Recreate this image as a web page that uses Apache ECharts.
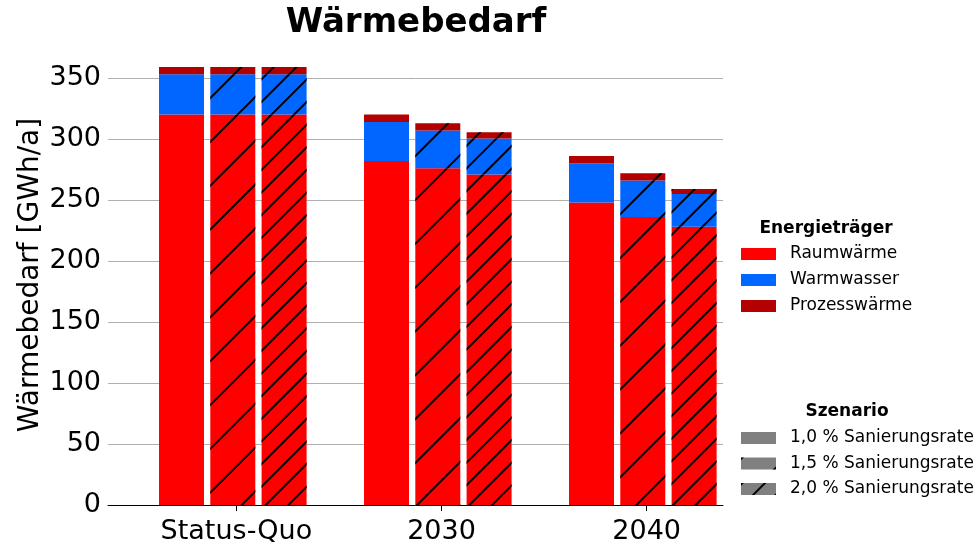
<!DOCTYPE html>
<html>
<head>
<meta charset="utf-8">
<script src="https://cdn.jsdelivr.net/npm/echarts@6/dist/echarts.min.js"></script>
<style>html,body{margin:0;padding:0;background:#fff;}#c{width:977px;height:545px;}</style>
</head>
<body>
<div id="c"></div>
<script>
const categories = ['Status-Quo', '2030', '2040'];
const scenarios = ['1,0 % Sanierungsrate', '1,5 % Sanierungsrate', '2,0 % Sanierungsrate'];
const components = ['Raumwärme', 'Warmwasser', 'Prozesswärme'];
// values per scenario, per category
const raumwaerme = [[320, 282, 248], [320, 276, 236], [320, 271, 228]];
const warmwasser = [[33, 32, 32], [33, 31, 30], [33, 29.5, 27]];
const prozesswaerme = [[6, 6, 6], [6, 6, 6], [6, 5, 4]];
const yTicks = [0, 50, 100, 150, 200, 250, 300, 350];

const FONT = 'DejaVu Sans';
const compColors = ['#ff0000', '#0066ff', '#b30000'];
const decals = [
  null,
  { symbol: 'rect', symbolSize: 1, dashArrayX: [1, 0], dashArrayY: [1.5, 29], rotation: -Math.PI / 4, color: '#000' },
  { symbol: 'rect', symbolSize: 1, dashArrayX: [1, 0], dashArrayY: [1.5, 13.5], rotation: -Math.PI / 4, color: '#000' }
];
const compData = [raumwaerme, warmwasser, prozesswaerme];

const series = [];
for (let s = 0; s < scenarios.length; s++) {
  for (let c = 0; c < components.length; c++) {
    const itemStyle = { color: compColors[c] };
    if (decals[s]) itemStyle.decal = decals[s];
    series.push({
      type: 'bar', name: components[c], stack: 'S' + s,
      xAxisIndex: 1, yAxisIndex: 1,
      barWidth: 45, barGap: '14%', clip: false,
      itemStyle: itemStyle,
      emphasis: { disabled: true },
      data: compData[c][s]
    });
  }
}
for (let s = 0; s < scenarios.length; s++) {
  const itemStyle = { color: '#808080' };
  if (decals[s]) itemStyle.decal = decals[s];
  series.push({ type: 'bar', name: scenarios[s], xAxisIndex: 0, yAxisIndex: 0, itemStyle: itemStyle, data: [] });
}

const yMax = yTicks[yTicks.length - 1];
const chart = echarts.init(document.getElementById('c'), null, { renderer: 'canvas' });
chart.setOption({
  animation: false,
  backgroundColor: '#fff',
  textStyle: { fontFamily: FONT },
  grid: [
    { left: 108, right: 254, top: 78, bottom: 40 },
    { left: 130.3, right: 231.7, top: 78, bottom: 40 }
  ],
  xAxis: [
    {
      type: 'value', gridIndex: 0, min: -0.626, max: 2.372,
      axisLine: { show: true, lineStyle: { color: '#000', width: 1 } },
      axisTick: { show: true, customValues: [0, 1, 2], length: 6, lineStyle: { color: '#000' } },
      axisLabel: { show: true, customValues: [0, 1, 2], formatter: v => categories[Math.round(v)] || '', fontSize: 27, color: '#000', fontFamily: FONT, margin: 13 },
      splitLine: { show: false }
    },
    {
      type: 'category', gridIndex: 1, data: categories,
      axisLine: { show: false }, axisTick: { show: false }, axisLabel: { show: false }, splitLine: { show: false }
    }
  ],
  yAxis: [
    {
      type: 'value', gridIndex: 0, min: 0, max: yMax, interval: 50,
      axisLine: { show: false }, axisTick: { show: false },
      axisLabel: { fontSize: 27, color: '#000', fontFamily: FONT, margin: 7 },
      splitLine: { show: true, lineStyle: { color: '#b0b0b0', width: 1 } }
    },
    {
      type: 'value', gridIndex: 1, min: 0, max: yMax, interval: 50, show: false,
      splitLine: { show: false }
    }
  ],
  legend: [
    {
      data: components, left: 741, top: 245.5, orient: 'vertical', padding: 0,
      itemWidth: 35, itemHeight: 12, itemGap: 9, icon: 'rect',
      textStyle: { fontSize: 17, lineHeight: 17, color: '#000', fontFamily: FONT, padding: [0, 0, 0, 9] },
      selectedMode: false
    },
    {
      data: scenarios, left: 741, top: 429.5, orient: 'vertical', padding: 0,
      itemWidth: 35, itemHeight: 12, itemGap: 8.5, icon: 'rect',
      textStyle: { fontSize: 17, lineHeight: 17, color: '#000', fontFamily: FONT, padding: [0, 0, 0, 9] },
      selectedMode: false
    }
  ],
  graphic: [
    { type: 'text', x: 416, y: 23, style: { text: 'Wärmebedarf', font: 'bold 34px "DejaVu Sans"', fill: '#000', textAlign: 'center', textVerticalAlign: 'middle' } },
    { type: 'text', x: 31, y: 275, rotation: Math.PI / 2, style: { text: 'Wärmebedarf [GWh/a]', font: '28px "DejaVu Sans"', fill: '#000', textAlign: 'center', textVerticalAlign: 'middle' } },
    { type: 'text', x: 826, y: 229, style: { text: 'Energieträger', font: 'bold 17px "DejaVu Sans"', fill: '#000', textAlign: 'center', textVerticalAlign: 'middle' } },
    { type: 'text', x: 847, y: 412, style: { text: 'Szenario', font: 'bold 17px "DejaVu Sans"', fill: '#000', textAlign: 'center', textVerticalAlign: 'middle' } }
  ],
  series: series
});
</script>
</body>
</html>
